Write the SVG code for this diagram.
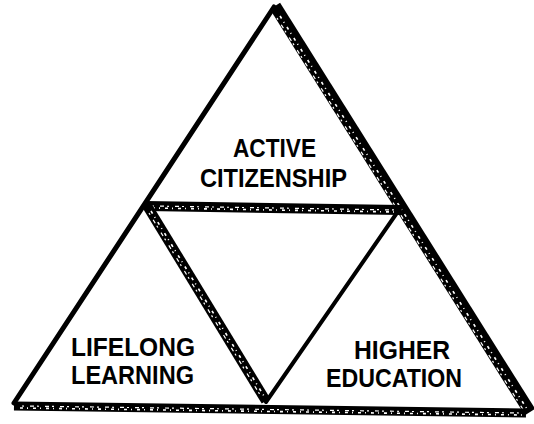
<svg xmlns="http://www.w3.org/2000/svg" width="534" height="424" viewBox="0 0 534 424">
<style>
.solid{stroke:#000;fill:none;stroke-linecap:round}
.band{stroke:#000;fill:none;stroke-linecap:butt}
.tex{stroke:#fff;fill:none;stroke-width:1.6;stroke-dasharray:3 4 1 5}
.tex2{stroke:#fff;fill:none;stroke-width:1.2;stroke-dasharray:2 6 4 3}
text{font-family:"Liberation Sans",Arial,sans-serif;font-weight:bold;font-size:25px;fill:#000}
</style>
<rect width="534" height="424" fill="#fff"/>
<g id="connectors">
  <!-- outer left edge -->
  <line class="solid" x1="274" y1="7" x2="14" y2="403" stroke-width="5"/>
  <!-- outer right edge (shadowed) -->
  <line class="band" x1="275" y1="6" x2="530" y2="412" stroke-width="12"/>
  <line class="tex" x1="280" y1="16" x2="527" y2="409"/>
  <line class="tex2" x1="277" y1="18" x2="524" y2="411"/>
  <!-- bottom edge (shadowed) -->
  <line class="band" x1="14" y1="406" x2="526" y2="413" stroke-width="9"/>
  <line class="tex" x1="20" y1="408" x2="522" y2="415"/>
  <line class="tex2" x1="22" y1="406" x2="520" y2="413"/>
  <!-- inner horizontal (shadowed) -->
  <line class="band" x1="146" y1="206" x2="401" y2="210" stroke-width="10"/>
  <line class="tex" x1="152" y1="208" x2="396" y2="212"/>
  <line class="tex2" x1="152" y1="206" x2="396" y2="210"/>
  <!-- inner left diagonal (shadowed) -->
  <line class="band" x1="146" y1="204" x2="266" y2="401" stroke-width="10"/>
  <line class="tex" x1="151" y1="211" x2="264" y2="396"/>
  <line class="tex2" x1="149" y1="213" x2="262" y2="398"/>
  <!-- inner right diagonal -->
  <line class="solid" x1="401" y1="207" x2="266" y2="402" stroke-width="4"/>
</g>
<g id="active-citizenship">
  <text x="233" y="157" textLength="83" lengthAdjust="spacingAndGlyphs">ACTIVE</text>
  <text x="200" y="187" textLength="147" lengthAdjust="spacingAndGlyphs">CITIZENSHIP</text>
</g>
<g id="lifelong-learning">
  <text x="71" y="356" textLength="124" lengthAdjust="spacingAndGlyphs">LIFELONG</text>
  <text x="71" y="384" textLength="123" lengthAdjust="spacingAndGlyphs">LEARNING</text>
</g>
<g id="higher-education">
  <text x="354" y="359" textLength="96" lengthAdjust="spacingAndGlyphs">HIGHER</text>
  <text x="326" y="387" textLength="136" lengthAdjust="spacingAndGlyphs">EDUCATION</text>
</g>
</svg>
